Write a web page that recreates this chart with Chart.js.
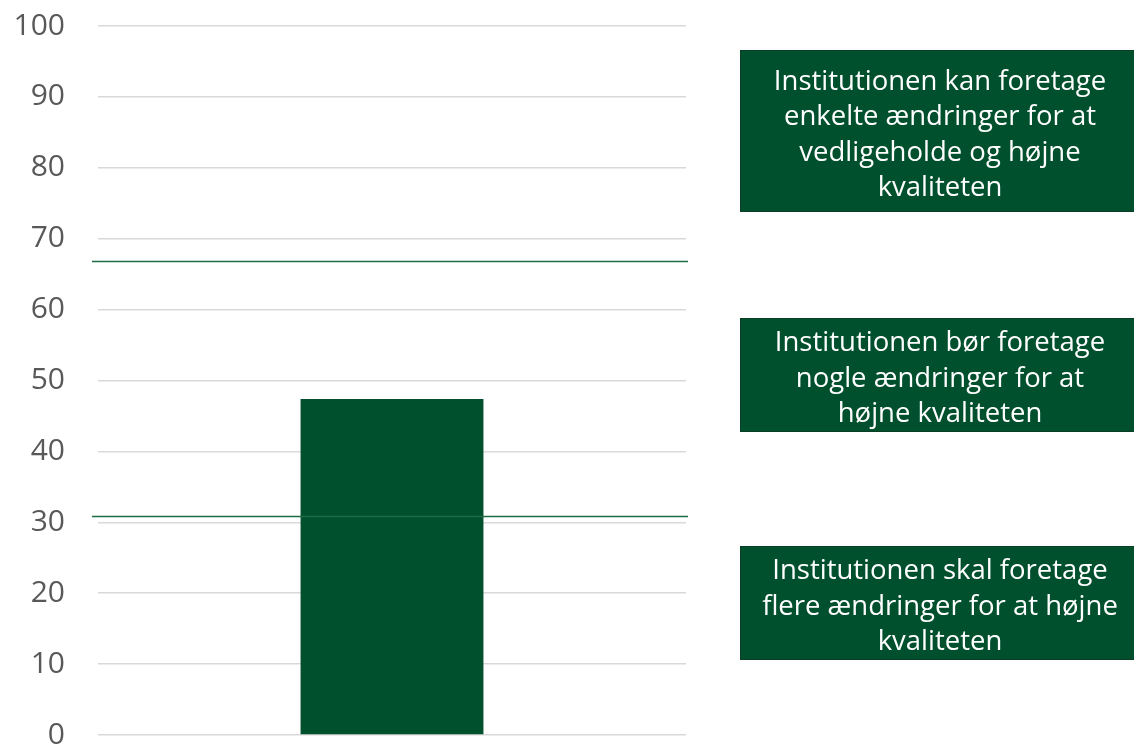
<!DOCTYPE html>
<html>
<head>
<meta charset="utf-8">
<script src="https://cdn.jsdelivr.net/npm/chart.js@4/dist/chart.umd.min.js"></script>
<style>
  html, body { margin: 0; padding: 0; background: #ffffff; }
  #wrap { position: relative; width: 1134px; height: 747px; }
</style>
</head>
<body>
<div id="wrap"><canvas id="c" width="1134" height="747"></canvas></div>
<script>
// ---- data ----
const categories = ["Score"];
const barValues = [47.4];
const thresholds = [66.8, 30.9];
const yTicks = [0, 10, 20, 30, 40, 50, 60, 70, 80, 90, 100];
const boxTexts = [
  ["Institutionen kan foretage", "enkelte ændringer for at", "vedligeholde og højne", "kvaliteten"],
  ["Institutionen bør foretage", "nogle ændringer for at", "højne kvaliteten"],
  ["Institutionen skal foretage", "flere ændringer for at højne", "kvaliteten"]
];

const GREEN = "#00502D";
const FONT = "'Open Sans', 'Noto Sans', sans-serif";

// layout for the annotation boxes (pixels)
const boxLayout = [
  { x: 740, y: 50, w: 400, h: 162 },
  { x: 740, y: 318, w: 400, h: 114 },
  { x: 740, y: 546, w: 400, h: 114 }
];

const thresholdPlugin = {
  id: "thresholds",
  afterDatasetsDraw(chart) {
    const ctx = chart.ctx;
    const ys = chart.scales.y;
    const area = chart.chartArea;
    ctx.save();
    ctx.strokeStyle = "#1F6B45";
    ctx.lineWidth = 1.5;
    thresholds.forEach(v => {
      const py = Math.round(ys.getPixelForValue(v)) + 0.5;
      ctx.beginPath();
      ctx.moveTo(area.left - 6, py);
      ctx.lineTo(area.right + 2, py);
      ctx.stroke();
    });
    ctx.restore();
  }
};

const boxPlugin = {
  id: "boxes",
  afterDraw(chart) {
    const ctx = chart.ctx;
    ctx.save();
    boxTexts.forEach((lines, i) => {
      const b = boxLayout[i];
      ctx.fillStyle = GREEN;
      ctx.fillRect(b.x, b.y, b.w, b.h);
      ctx.strokeStyle = "#0B3F25";
      ctx.lineWidth = 1;
      ctx.strokeRect(b.x + 0.5, b.y + 0.5, b.w, b.h - 1);
      ctx.fillStyle = "#ffffff";
      ctx.font = "27.5px " + FONT;
      ctx.textAlign = "center";
      ctx.textBaseline = "middle";
      const lh = 35.5;
      const cx = 940;
      const startY = b.y + b.h / 2 - (lines.length - 1) * lh / 2 + 4;
      lines.forEach((t, j) => ctx.fillText(t, cx, startY + j * lh));
    });
    ctx.restore();
  }
};

new Chart(document.getElementById("c"), {
  type: "bar",
  data: {
    labels: categories,
    datasets: [{
      data: barValues,
      backgroundColor: GREEN,
      borderWidth: 0,
      barPercentage: 0.311,
      categoryPercentage: 1.0
    }]
  },
  options: {
    responsive: false,
    animation: false,
    events: [],
    layout: { padding: { left: 10, right: 448, top: 26, bottom: 12 } },
    plugins: { legend: { display: false }, tooltip: { enabled: false }, title: { display: false } },
    scales: {
      x: { display: false },
      y: {
        min: 0, max: 100,
        afterBuildTicks(scale) { scale.ticks = yTicks.map(v => ({ value: v })); },
        afterFit(scale) { scale.width = 88; scale.paddingTop = 0; scale.paddingBottom = 0; },
        border: { display: false },
        grid: { color: "#D9D9D9", lineWidth: 1.5, drawTicks: false },
        ticks: {
          padding: 33,
          color: "#595959",
          font: { family: FONT, size: 30 }
        }
      }
    }
  },
  plugins: [thresholdPlugin, boxPlugin]
});
</script>
</body>
</html>
